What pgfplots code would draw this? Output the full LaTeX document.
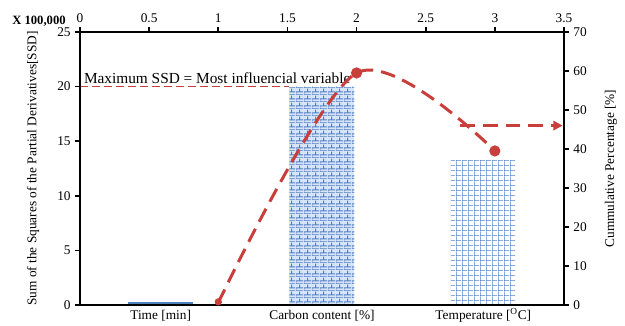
\documentclass[border=0pt]{standalone}
\usepackage{fontspec}
\setmainfont{Liberation Serif}
\usepackage{pgfplots}
\pgfplotsset{compat=1.18}
\usetikzlibrary{patterns,arrows.meta}
\definecolor{barblue}{RGB}{80,126,196}
\definecolor{lightfill}{RGB}{215,229,246}
\definecolor{darkbar}{RGB}{79,129,189}
\definecolor{linered}{RGB}{200,62,58}
\pgfdeclarepatternformonly{mybricks}{\pgfpointorigin}{\pgfpoint{6pt}{5pt}}{\pgfpoint{6pt}{5pt}}{%
  \pgfsetlinewidth{0.8pt}%
  \pgfpathmoveto{\pgfpoint{0pt}{0pt}}\pgfpathlineto{\pgfpoint{6pt}{0pt}}%
  \pgfpathmoveto{\pgfpoint{0pt}{2.5pt}}\pgfpathlineto{\pgfpoint{6pt}{2.5pt}}%
  \pgfpathmoveto{\pgfpoint{0pt}{0pt}}\pgfpathlineto{\pgfpoint{0pt}{2.5pt}}%
  \pgfpathmoveto{\pgfpoint{3pt}{2.5pt}}\pgfpathlineto{\pgfpoint{3pt}{5pt}}%
  \pgfusepath{stroke}}
\pgfdeclarepatternformonly{mygrid}{\pgfpointorigin}{\pgfpoint{4.5pt}{3.6pt}}{\pgfpoint{4.5pt}{3.6pt}}{%
  \pgfsetlinewidth{0.95pt}%
  \pgfpathmoveto{\pgfpoint{0pt}{0pt}}\pgfpathlineto{\pgfpoint{4.5pt}{0pt}}%
  \pgfpathmoveto{\pgfpoint{0pt}{0pt}}\pgfpathlineto{\pgfpoint{0pt}{3.6pt}}%
  \pgfusepath{stroke}}
\begin{document}
\begin{tikzpicture}
\pgfplotsset{every axis/.append style={
  scale only axis, width=363pt, height=204.75pt,
  /pgf/number format/assume math mode=true,
  tick label style={font=\fontsize{10}{12}\selectfont},
  label style={font=\fontsize{10}{12}\selectfont},
  axis line style={line width=1.6pt},
  tick align=outside,
  major tick length=3.5pt,
  tick style={black, line width=1.2pt},
}}
\begin{axis}[
  xmin=0, xmax=3, ymin=0, ymax=25,
  xtick={0.5,1.5,2.5},
  xticklabels={Time [min], Carbon content [\%], Temperature [$^{\mathrm{O}}$C]},
  xticklabel style={text height=7pt, text depth=2pt, yshift=3.5pt},
  xtick style={draw=none},
  xtick pos=left,
  ytick={0,5,...,25},
  ytick pos=left,
  ylabel={Sum of the Squares of the Partial Derivatives[SSD]},
  ylabel style={at={(axis description cs:-0.097,0.5)}, anchor=center},
  ybar, bar width=48.75pt, bar shift=0pt,
]
\coordinate (ll) at (rel axis cs:0,0);
\coordinate (ur) at (rel axis cs:1,1);
\addplot[fill=darkbar, draw=none] coordinates {(0.5,0.3)};
\addplot[fill=lightfill, draw=none, postaction={pattern=mybricks, pattern color=barblue}] coordinates {(1.5,20)};
\addplot[fill=white, draw=none, postaction={pattern=mygrid, pattern color=barblue}] coordinates {(2.5,13.2)};
\addplot[sharp plot, linered, line width=1.1pt, dash pattern=on 6pt off 3pt] coordinates {(0,20) (1.296,20)};
\node[anchor=south west, inner sep=1pt, font=\fontsize{11.5}{13}\selectfont] at (axis cs:0.015,20.1) {Maximum SSD = Most influencial variable};
\end{axis}
\begin{axis}[
  xmin=0, xmax=3.5, ymin=0, ymax=70,
  xtick={0,0.5,...,3.5},
  xtick pos=right, xticklabel pos=right,
  ytick={0,10,...,70},
  ytick pos=right, yticklabel pos=right,
  ylabel={Cummulative Percentage [\%]},
  ylabel style={at={(axis description cs:1.097,0.5)}, anchor=center, rotate=0},
  clip=false,
]
\addplot[smooth, linered, line width=2.25pt, dash pattern=on 11pt off 6pt,
  mark=*, mark indices={2,3}, mark size=3pt, mark options={solid, fill=linered, draw=linered}] coordinates {(1,0.6) (2,59.5) (3,39.5)};
\addplot[only marks, mark=*, mark size=2.5pt, color=linered, mark options={solid, fill=linered, draw=linered}] coordinates {(1,0.8)};
\addplot[sharp plot, linered, line width=2.25pt, dash pattern=on 11pt off 6pt, -{Triangle[length=7pt,width=7pt]}] coordinates {(2.75,46) (3.49,46)};
\end{axis}
\node[anchor=east, font=\bfseries\fontsize{9.5}{11}\selectfont, inner sep=0pt] at ([shift={(-10.5pt,8pt)}]ll |- ur) {X 100,000};
\pgfresetboundingbox
\path ([shift={(-60pt,-15pt)}]ll) rectangle ([shift={(45.75pt,24pt)}]ur);
\end{tikzpicture}
\end{document}
